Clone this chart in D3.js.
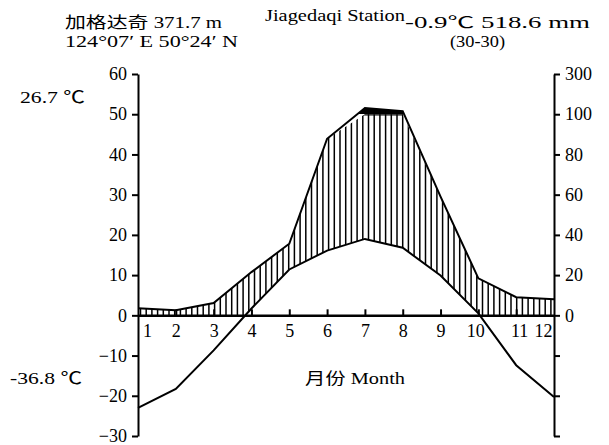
<!DOCTYPE html>
<html><head><meta charset="utf-8">
<script src="https://cdn.jsdelivr.net/npm/d3@7"></script>
<style>
body{margin:0;background:#fff}
text{font-family:"Liberation Serif","Noto Sans CJK SC",serif;fill:#000}
</style>
</head><body>
<svg id="c" width="609" height="445"></svg>
<script>
// ---- data ----
const months = [1,2,3,4,5,6,7,8,9,10,11,12];
const temperature = [-23.0,-18.3,-8.7,1.7,11.4,16.1,19.0,16.8,9.9,0.5,-12.4,-20.3];
const precipitation = [3.5,2.5,6.1,21.5,35.6,87.8,131,115,59,18.4,9.0,8.0];
const tempTicks = [-30,-20,-10,0,10,20,30,40,50,60];
const precipTicks = [-60,-40,-20,0,20,40,60,80,100,300];
const precipLabels = [0,20,40,60,80,100,300];
const stationName = "加格达奇 371.7 m";
const stationCoords = "124°07′ E 50°24′ N";
const stationEn = "Jiagedaqi Station";
const annualText = "-0.9℃  518.6 mm";
const periodText = "(30-30)";
const maxTempText = "26.7 ℃";
const minTempText = "-36.8 ℃";
const xTitle = "月份 Month";

const svg = d3.select("#c");
const x = d3.scaleLinear().domain([1,12]).range([138,554]);
const y = d3.scaleLinear().domain([-30,60]).range([436,74]);
const yp = d3.scaleLinear().domain([-60,0,100,300]).range([y(-30),y(0),y(50),y(60)]);

const lineP = d3.line().x((d,i)=>x(months[i])).y(d=>yp(d));
const lineT = d3.line().x((d,i)=>x(months[i])).y(d=>y(d));

const defs = svg.append("defs");
// region between precipitation (capped at 100mm) and temperature
const areaPT = d3.area().x((d,i)=>x(months[i]))
  .y0((d,i)=>y(temperature[i])).y1(d=>yp(Math.min(d,100)));
defs.append("clipPath").attr("id","cpPT").append("path").attr("d",areaPT(precipitation));
defs.append("clipPath").attr("id","cpAbove0").append("rect")
  .attr("x",x(1)).attr("y",0).attr("width",x(12)-x(1)).attr("height",y(0));
const wetEdge = Math.floor(yp(100));
defs.append("clipPath").attr("id","cpWet").append("rect")
  .attr("x",x(1)).attr("y",0).attr("width",x(12)-x(1)).attr("height",wetEdge);

// hatching
const hatchX = d3.range(x(1)+2.5, x(12), 5.7);
svg.append("g").attr("clip-path","url(#cpAbove0)")
  .append("g").attr("clip-path","url(#cpPT)")
  .selectAll("line").data(hatchX).join("line")
  .attr("x1",d=>d).attr("x2",d=>d).attr("y1",yp(100)-2).attr("y2",y(0))
  .attr("stroke","#000").attr("stroke-width",1.5);

// solid black above 100 mm
const areaWet = d3.area().x((d,i)=>x(months[i])).y0(wetEdge+4).y1(d=>yp(d));
svg.append("path").attr("clip-path","url(#cpWet)")
  .attr("d",areaWet(precipitation)).attr("fill","#000");
// 100 mm line across the wet part
svg.append("path").attr("clip-path","url(#cpPT)")
  .attr("d",`M${x(1)},${yp(100)}H${x(12)}`).attr("stroke","#000").attr("stroke-width",2.5);

// curves
svg.append("path").attr("d",lineP(precipitation)).attr("fill","none")
  .attr("stroke","#000").attr("stroke-width",2);
svg.append("path").attr("d",lineT(temperature)).attr("fill","none")
  .attr("stroke","#000").attr("stroke-width",2);

// left axis
const axL = svg.append("g").attr("transform",`translate(${x(1)},0)`)
  .call(d3.axisLeft(y).tickValues(tempTicks).tickSize(6).tickSizeOuter(0).tickPadding(5));
axL.select(".domain").attr("stroke-width",2);
axL.selectAll(".tick line").attr("stroke-width",2);
axL.selectAll("text").style("font-size","18px").style("font-family","Liberation Serif");

// right axis
const axR = svg.append("g").attr("transform",`translate(${x(12)},0)`)
  .call(d3.axisRight(yp).tickValues(precipTicks).tickSize(6).tickSizeOuter(0).tickPadding(5)
    .tickFormat(d=>precipLabels.includes(d)?d:""));
axR.select(".domain").attr("stroke-width",2);
axR.selectAll(".tick line").attr("stroke-width",2);
axR.selectAll("text").style("font-size","18px").style("font-family","Liberation Serif");

// x axis
const axB = svg.append("g").attr("transform",`translate(0,${y(0)})`)
  .call(d3.axisBottom(x).tickValues(months).tickSize(-6).tickSizeOuter(0).tickPadding(9)
    .tickFormat(d3.format("d")));
axB.select(".domain").attr("stroke-width",2.5);
axB.selectAll(".tick line").attr("stroke-width",2)
  .attr("display",d=>(d===1||d===12)?"none":null);
axB.selectAll("text").style("font-size","18px").style("font-family","Liberation Serif")
  .attr("dx",d=>d===1?9:d===12?-11:d===11?3:d===10?-3:0);

// texts
function txt(s, xx, yy, size, len, anchor){
  const t = svg.append("text").attr("x",xx).attr("y",yy).style("font-size",size+"px")
    .attr("text-anchor",anchor||"start").text(s);
  if(len) t.attr("textLength",len).attr("lengthAdjust","spacingAndGlyphs");
  return t;
}
txt(stationName, 65, 28, 16, 157);
txt(stationCoords, 65, 47, 16, 173);
txt(stationEn, 265, 21, 16, 140);
txt(annualText, 405, 28, 16, 185);
txt(periodText, 450, 47, 16, 55);
txt(maxTempText, 20, 103, 17, 65);
txt(minTempText, 10, 384, 17, 72);
txt(xTitle, 305, 384, 16, 100);
</script>
</body></html>
